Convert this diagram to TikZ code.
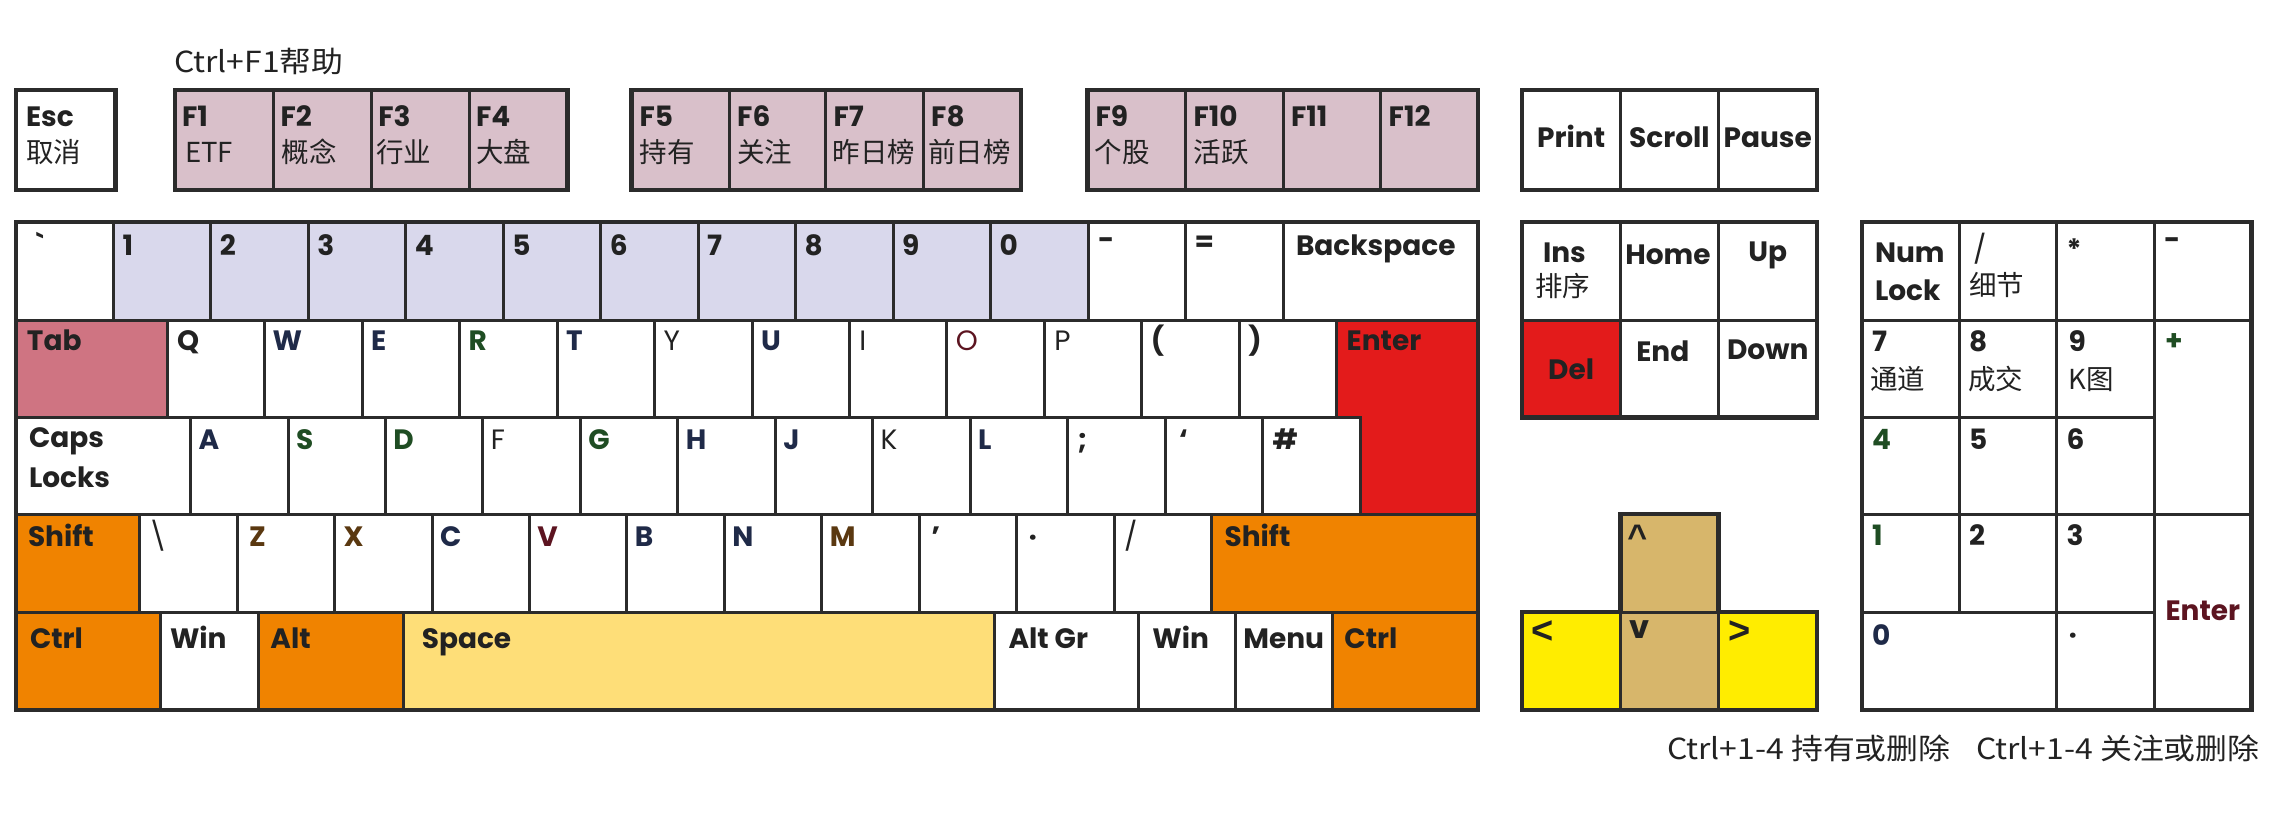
\documentclass[tikz,border=0pt]{standalone}
\usepackage{fontspec}
\newfontfamily\keyfont{Poppins}
\newfontfamily\arrowfont{Liberation Sans}
\newfontfamily\cjk{Noto Sans CJK SC}
\newfontfamily\cjkw{Noto Sans CJK SC}[FakeStretch=1.1]
\definecolor{keyline}{HTML}{2B2B2B}
\definecolor{labk}{HTML}{222222}
\definecolor{fkey}{HTML}{D9C0CA}
\definecolor{numrow}{HTML}{D9D8EC}
\definecolor{tabc}{HTML}{CF7482}
\definecolor{redk}{HTML}{E31B1B}
\definecolor{orangek}{HTML}{F08300}
\definecolor{spacek}{HTML}{FEDE78}
\definecolor{tank}{HTML}{D7B66B}
\definecolor{yellowk}{HTML}{FFED00}
\definecolor{navy}{HTML}{1F2A48}
\definecolor{dgreen}{HTML}{1F4D23}
\definecolor{brownk}{HTML}{5A3810}
\definecolor{dred}{HTML}{5C1420}
\newcommand{\K}[6]{\node[keybox,fill=#6,minimum width={#4-#2},minimum height={#5-#3},anchor=north west] (#1) at (#2,-#3) {};}
\newcommand{\KK}[9]{\K{#1}{#2}{#3}{#4}{#5}{#6}\node[lab,anchor=base west] (#1-t) at ([shift={(#7,-#8)}]#1.north west) {#9};}
\newcommand{\KL}[6][lab]{\node[#1,anchor=base west] (#2) at ([shift={(#4,-#5)}]#3.north west) {#6};}
\begin{document}
\begin{tikzpicture}[x=1pt,y=1pt,
  keybox/.style={draw=keyline,line width=3pt,inner sep=0pt,outer sep=0pt,rectangle},
  outline/.style={draw=keyline,line width=4.5pt,line join=miter},
  lab/.style={inner sep=0pt,outer sep=0pt,text=labk,font=\keyfont\bfseries\fontsize{28}{30}\selectfont},
  arr/.style={inner sep=0pt,outer sep=0pt,text=labk,font=\arrowfont\bfseries\fontsize{38}{40}\selectfont},
  cj/.style={inner sep=0pt,outer sep=0pt,text=labk,font=\cjk\fontsize{27.5}{30}\selectfont},
  note/.style={inner sep=0pt,outer sep=0pt,text=labk,font=\cjkw\fontsize{29}{31}\selectfont}]
\useasboundingbox (0,0) rectangle (2270,-832);

% ---- function row
\node[note,anchor=base west] (helpnote) at (174,-73) {Ctrl+F1帮助};
\KK{esc}{16}{90}{115.5}{190}{white}{10}{37}{Esc}
\KL[cj]{esc-c}{esc}{10}{72}{取消}
\KK{f1}{175}{90}{273.6}{190}{fkey}{7}{37}{F1}
\KL[cj]{f1-c}{f1}{10}{72}{ETF}
\KK{f2}{273.6}{90}{371.3}{190}{fkey}{7}{37}{F2}
\KL[cj]{f2-c}{f2}{8}{72}{概念}
\KK{f3}{371.3}{90}{469}{190}{fkey}{7}{37}{F3}
\KL[cj]{f3-c}{f3}{5}{72}{行业}
\KK{f4}{469}{90}{567.5}{190}{fkey}{7}{37}{F4}
\KL[cj]{f4-c}{f4}{7}{72}{大盘}
\KK{f5}{631.6}{90}{729.2}{190}{fkey}{8}{37}{F5}
\KL[cj]{f5-c}{f5}{8}{72}{持有}
\KK{f6}{729.2}{90}{825.6}{190}{fkey}{8}{37}{F6}
\KL[cj]{f6-c}{f6}{8}{72}{关注}
\KK{f7}{825.6}{90}{923.2}{190}{fkey}{8}{37}{F7}
\KL[cj]{f7-c}{f7}{7}{72}{昨日榜}
\KK{f8}{923.2}{90}{1020.8}{190}{fkey}{8}{37}{F8}
\KL[cj]{f8-c}{f8}{5}{72}{前日榜}
\KK{f9}{1087.5}{90}{1185.5}{190}{fkey}{8}{37}{F9}
\KL[cj]{f9-c}{f9}{7}{72}{个股}
\KK{f10}{1185.5}{90}{1283}{190}{fkey}{8}{37}{F10}
\KL[cj]{f10-c}{f10}{8}{72}{活跃}
\KK{f11}{1283}{90}{1380.7}{190}{fkey}{8}{37}{F11}
\KK{f12}{1380.7}{90}{1478}{190}{fkey}{8}{37}{F12}
\K{print}{1522}{90}{1620.3}{190}{white}
\node[lab,anchor=base] (print-t) at ([yshift=-58]print.north) {Print};
\K{scroll}{1620.3}{90}{1718.6}{190}{white}
\node[lab,anchor=base] (scroll-t) at ([yshift=-58]scroll.north) {Scroll};
\K{pause}{1718.6}{90}{1816.8}{190}{white}
\node[lab,anchor=base] (pause-t) at ([yshift=-58]pause.north) {Pause};

% ---- row 1
\KK{grave}{16}{222}{113.5}{320}{white}{20}{33}{`}
\KK{n1}{113.5}{222}{210.9}{320}{numrow}{9}{33}{1}
\KK{n2}{210.9}{222}{308.4}{320}{numrow}{9}{33}{2}
\KK{n3}{308.4}{222}{405.8}{320}{numrow}{9}{33}{3}
\KK{n4}{405.8}{222}{503.3}{320}{numrow}{9}{33}{4}
\KK{n5}{503.3}{222}{600.8}{320}{numrow}{9}{33}{5}
\KK{n6}{600.8}{222}{698.2}{320}{numrow}{9}{33}{6}
\KK{n7}{698.2}{222}{795.7}{320}{numrow}{9}{33}{7}
\KK{n8}{795.7}{222}{893.1}{320}{numrow}{9}{33}{8}
\KK{n9}{893.1}{222}{990.6}{320}{numrow}{9}{33}{9}
\KK{n0}{990.6}{222}{1088.1}{320}{numrow}{9}{33}{0}
\KK{minus}{1088.1}{222}{1185.5}{320}{white}{10}{27}{-}
\KK{equal}{1185.5}{222}{1283}{320}{white}{9}{29}{=}
\KK{bsp}{1283}{222}{1478}{320}{white}{13}{33}{Backspace}

% ---- row 2
\KK{tab}{16}{320}{167.2}{417.5}{tabc}{11}{30}{Tab}
\KK{q}{167.2}{320}{264.7}{417.5}{white}{10}{30}{Q}
\KK{w}{264.7}{320}{362.1}{417.5}{white}{8}{30}{\color{navy}W}
\KK{e}{362.1}{320}{459.6}{417.5}{white}{9}{30}{\color{navy}E}
\KK{r}{459.6}{320}{557}{417.5}{white}{9}{30}{\color{dgreen}R}
\KK{t}{557}{320}{654.5}{417.5}{white}{9}{30}{\color{navy}T}
\KK{y}{654.5}{320}{752}{417.5}{white}{9}{30}{\mdseries Y}
\KK{u}{752}{320}{849.4}{417.5}{white}{9}{30}{\color{navy}U}
\KK{i}{849.4}{320}{946.9}{417.5}{white}{10}{30}{\mdseries I}
\KK{o}{946.9}{320}{1044.3}{417.5}{white}{9}{30}{\mdseries\color{dred}O}
\KK{p}{1044.3}{320}{1141.8}{417.5}{white}{10}{30}{\mdseries P}
\KK{lpar}{1141.8}{320}{1239.3}{417.5}{white}{9}{30}{(}
\KK{rpar}{1239.3}{320}{1336.7}{417.5}{white}{9}{30}{)}

% ---- row 3
\KK{caps}{16}{417.5}{190.5}{514}{white}{13}{30}{Caps}
\KL{caps-t2}{caps}{13}{70}{Locks}
\KK{a}{190.5}{417.5}{288}{514}{white}{8}{32}{\color{navy}A}
\KK{s}{288}{417.5}{385.4}{514}{white}{8}{32}{\color{dgreen}S}
\KK{d}{385.4}{417.5}{482.9}{514}{white}{8}{32}{\color{dgreen}D}
\KK{f}{482.9}{417.5}{580.3}{514}{white}{8}{32}{\mdseries F}
\KK{g}{580.3}{417.5}{677.8}{514}{white}{8}{32}{\color{dgreen}G}
\KK{h}{677.8}{417.5}{775.3}{514}{white}{8}{32}{\color{navy}H}
\KK{j}{775.3}{417.5}{872.7}{514}{white}{8}{32}{\color{navy}J}
\KK{k}{872.7}{417.5}{970.2}{514}{white}{8}{32}{\mdseries K}
\KK{l}{970.2}{417.5}{1067.6}{514}{white}{8}{32}{\color{navy}L}
\KK{semi}{1067.6}{417.5}{1165.1}{514}{white}{10}{32}{;}
\KK{quote}{1165.1}{417.5}{1262.5}{514}{white}{14}{32}{‘}
\KK{hash}{1262.5}{417.5}{1360}{514}{white}{10}{32}{\#}

% ---- ISO enter
\path[fill=redk,draw=keyline,line width=3pt] (1336.7,-320) -- (1478,-320) -- (1478,-514) -- (1360,-514) -- (1360,-417.5) -- (1336.7,-417.5) -- cycle;
\coordinate (enterc) at (1336.7,-320);
\node[lab,anchor=base west] (enter-t) at ([shift={(10,-30)}]enterc) {Enter};

% ---- row 4
\KK{lshift}{16}{514}{139.6}{612}{orangek}{12}{32}{Shift}
\KK{bslash}{139.6}{514}{237.1}{612}{white}{9}{32}{\mdseries\textbackslash}
\KK{z}{237.1}{514}{334.5}{612}{white}{12}{32}{\color{brownk}Z}
\KK{x}{334.5}{514}{432}{612}{white}{9}{32}{\color{brownk}X}
\KK{c}{432}{514}{529.4}{612}{white}{8}{32}{\color{navy}C}
\KK{v}{529.4}{514}{626.9}{612}{white}{8}{32}{\color{dred}V}
\KK{b}{626.9}{514}{724.4}{612}{white}{8}{32}{\color{navy}B}
\KK{nkey}{724.4}{514}{821.8}{612}{white}{8}{32}{\color{navy}N}
\KK{m}{821.8}{514}{919.3}{612}{white}{8}{32}{\color{brownk}M}
\KK{comma}{919.3}{514}{1016.7}{612}{white}{12}{32}{’}
\KK{period}{1016.7}{514}{1114.2}{612}{white}{12}{32}{·}
\KK{slash}{1114.2}{514}{1211.6}{612}{white}{10}{32}{\mdseries /}
\KK{rshift}{1211.6}{514}{1478}{612}{orangek}{13}{32}{Shift}

% ---- row 5
\KK{lctrl}{16}{612}{160}{710}{orangek}{14}{36}{Ctrl}
\KK{lwin}{160}{612}{258.4}{710}{white}{10}{36}{Win}
\KK{alt}{258.4}{612}{403.8}{710}{orangek}{12}{36}{Alt}
\KK{space}{403.8}{612}{994.5}{710}{spacek}{18}{36}{Space}
\KK{altgr}{994.5}{612}{1138.4}{710}{white}{14}{36}{Alt Gr}
\KK{rwin}{1138.4}{612}{1235.4}{710}{white}{14}{36}{Win}
\KK{menu}{1235.4}{612}{1332.4}{710}{white}{8}{36}{Menu}
\KK{rctrl}{1332.4}{612}{1478}{710}{orangek}{12}{36}{Ctrl}

% ---- navigation
\KK{ins}{1522}{222}{1620.3}{320}{white}{21}{40}{Ins}
\KL[cj]{ins-c}{ins}{13}{74}{排序}
\KK{home}{1620.3}{222}{1718.6}{320}{white}{5}{42}{Home}
\K{up}{1718.6}{222}{1816.8}{320}{white}
\node[lab,anchor=base] (up-t) at ([yshift=-39]up.north) {Up};
\K{del}{1522}{320}{1620.3}{417.5}{redk}
\node[lab,anchor=base] (del-t) at ([yshift=-59]del.north) {Del};
\KK{end}{1620.3}{320}{1718.6}{417.5}{white}{16}{41}{End}
\K{down}{1718.6}{320}{1816.8}{417.5}{white}
\node[lab,anchor=base] (down-t) at ([yshift=-39]down.north) {Down};

% ---- arrows
\K{aup}{1620.3}{514}{1718.6}{612}{tank}
\KL[arr,font=\arrowfont\bfseries\fontsize{34}{36}\selectfont]{aup-t}{aup}{7}{34}{\^{}}
\K{aleft}{1522}{612}{1620.3}{710}{yellowk}
\KL[arr]{aleft-t}{aleft}{9}{31}{<}
\K{adown}{1620.3}{612}{1718.6}{710}{tank}
\KL[lab,font=\keyfont\bfseries\fontsize{32}{34}\selectfont]{adown-t}{adown}{9}{26}{v}
\K{aright}{1718.6}{612}{1816.8}{710}{yellowk}
\KL[arr]{aright-t}{aright}{10}{31}{>}

% ---- numpad
\KK{numlock}{1862}{222}{1959.2}{320}{white}{13}{40}{Num}
\KL{numlock-t2}{numlock}{13}{78}{Lock}
\KK{pdiv}{1959.2}{222}{2056.5}{320}{white}{14}{37}{\mdseries /}
\KL[cj]{pdiv-c}{pdiv}{10}{73}{细节}
\KK{pmul}{2056.5}{222}{2154.2}{320}{white}{10}{37}{*}
\KK{pminus}{2154.2}{222}{2251.5}{320}{white}{10}{27}{-}
\KK{p7}{1862}{320}{1959.2}{417.5}{white}{10}{31}{7}
\KL[cj]{p7-c}{p7}{8}{69}{通道}
\KK{p8}{1959.2}{320}{2056.5}{417.5}{white}{10}{31}{8}
\KL[cj]{p8-c}{p8}{9}{69}{成交}
\KK{p9}{2056.5}{320}{2154.2}{417.5}{white}{12}{31}{9}
\KL[cj]{p9-c}{p9}{12}{69}{K图}
\KK{pplus}{2154.2}{320}{2251.5}{514}{white}{11}{30}{\color{dgreen}+}
\KK{p4}{1862}{417.5}{1959.2}{514}{white}{10}{32}{\color{dgreen}4}
\KK{p5}{1959.2}{417.5}{2056.5}{514}{white}{10}{32}{5}
\KK{p6}{2056.5}{417.5}{2154.2}{514}{white}{10}{32}{6}
\KK{p1}{1862}{514}{1959.2}{612}{white}{10}{31}{\color{dgreen}1}
\KK{p2}{1959.2}{514}{2056.5}{612}{white}{10}{31}{2}
\KK{p3}{2056.5}{514}{2154.2}{612}{white}{10}{31}{3}
\KK{p0}{1862}{612}{2056.5}{710}{white}{10}{33}{\color{navy}0}
\KK{pdot}{2056.5}{612}{2154.2}{710}{white}{12}{32}{·}
\K{penter}{2154.2}{514}{2251.5}{710}{white}
\node[lab,anchor=base,text=dred] (penter-t) at ([yshift=-106]penter.north) {Enter};

% ---- cluster outlines
\draw[outline] (esc.north west) rectangle (esc.south east);
\draw[outline] (f1.north west) rectangle (f4.south east);
\draw[outline] (f5.north west) rectangle (f8.south east);
\draw[outline] (f9.north west) rectangle (f12.south east);
\draw[outline] (print.north west) rectangle (pause.south east);
\draw[outline] (grave.north west) rectangle (rctrl.south east);
\draw[outline] (ins.north west) rectangle (down.south east);
\draw[outline] (aleft.south west) -- (aleft.north west) -- (aup.south west) -- (aup.north west) -- (aup.north east) -- (aup.south east) -- (aright.north east) -- (aright.south east) -- cycle;
\draw[outline] (numlock.north west) rectangle (penter.south east);

% ---- notes
\node[note,anchor=base west] (note1) at (1667,-759) {Ctrl+1-4 持有或删除};
\node[note,anchor=base west] (note2) at (1976,-759) {Ctrl+1-4 关注或删除};
\end{tikzpicture}
\end{document}
